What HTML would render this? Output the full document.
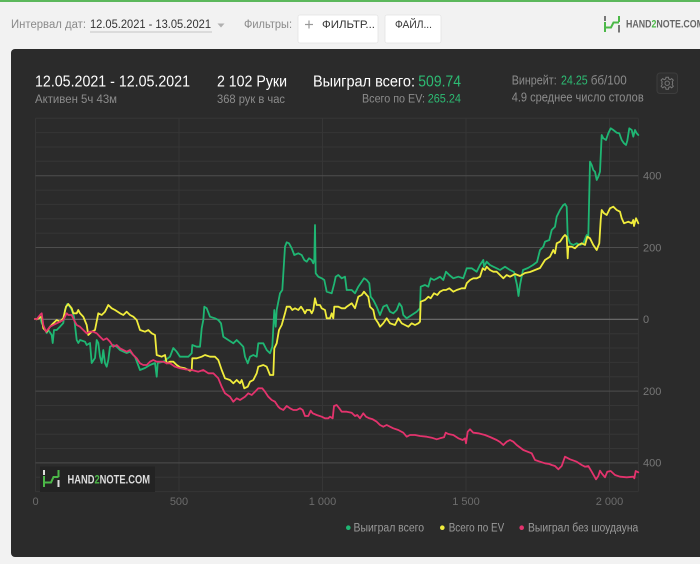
<!DOCTYPE html>
<html><head><meta charset="utf-8">
<style>
html,body{margin:0;padding:0;background:#f2f2f2;width:700px;height:564px;overflow:hidden}
svg{position:absolute;left:0;top:0;display:block}
text{font-family:"Liberation Sans","DejaVu Sans",sans-serif}
</style></head>
<body>
<svg width="700" height="564" viewBox="0 0 700 564" xmlns="http://www.w3.org/2000/svg">
<!-- top bar -->
<rect x="0" y="0" width="700" height="564" fill="#f2f2f2"/>
<rect x="0" y="0" width="700" height="2" fill="#5cb85c"/>
<text x="11" y="28" font-size="11.5" fill="#8a8a8a" textLength="75" lengthAdjust="spacingAndGlyphs">Интервал дат:</text>
<text x="90" y="28" font-size="11.5" fill="#333" textLength="121" lengthAdjust="spacingAndGlyphs">12.05.2021 - 13.05.2021</text>
<line x1="90" y1="32" x2="212" y2="32" stroke="#c4c4c4" stroke-width="1"/>
<polygon points="217.5,23.5 224.5,23.5 221,27.5" fill="#b0b0b0"/>
<text x="244" y="28" font-size="11.5" fill="#8a8a8a" textLength="48" lengthAdjust="spacingAndGlyphs">Фильтры:</text>
<rect x="298" y="15" width="80" height="28" rx="2" fill="#ffffff" stroke="#e4e4e4" stroke-width="0.8"/>
<line x1="305" y1="24.5" x2="313" y2="24.5" stroke="#999" stroke-width="1.2"/>
<line x1="309" y1="20.5" x2="309" y2="28.5" stroke="#999" stroke-width="1.2"/>
<text x="322" y="28" font-size="11" fill="#333" textLength="53" lengthAdjust="spacingAndGlyphs">ФИЛЬТР...</text>
<rect x="385" y="15" width="56" height="28" rx="2" fill="#ffffff" stroke="#e4e4e4" stroke-width="0.8"/>
<text x="395" y="28" font-size="11" fill="#333" textLength="37" lengthAdjust="spacingAndGlyphs">ФАЙЛ...</text>
<!-- top logo -->
<g stroke-width="2" fill="none">
<line x1="605" y1="16" x2="605" y2="21" stroke="#777"/>
<polyline points="605,22 605,32" stroke="#4cb848"/>
<polyline points="605,27.5 611,27.5 613.5,22.5 619,22.5" stroke="#4cb848"/>
<line x1="619" y1="16" x2="619" y2="22" stroke="#4cb848"/>
<line x1="619" y1="25" x2="619" y2="32.5" stroke="#777"/>
</g>
<text x="626" y="27.5" font-size="11" font-weight="bold" fill="#666" textLength="78" lengthAdjust="spacingAndGlyphs">HAND<tspan fill="#4cb848">2</tspan>NOTE.COM</text>

<!-- panel -->
<rect x="11" y="49" width="700" height="508" rx="4" fill="#2b2b2b"/>

<!-- header -->
<text x="35" y="86.5" font-size="15.5" fill="#ffffff" textLength="155" lengthAdjust="spacingAndGlyphs">12.05.2021 - 12.05.2021</text>
<text x="35" y="103" font-size="11.5" fill="#8c8c8c" textLength="82" lengthAdjust="spacingAndGlyphs">Активен 5ч 43м</text>
<text x="217" y="86.5" font-size="15.5" fill="#ffffff" textLength="70" lengthAdjust="spacingAndGlyphs">2 102 Руки</text>
<text x="217" y="103" font-size="11.5" fill="#8c8c8c" textLength="68" lengthAdjust="spacingAndGlyphs">368 рук в час</text>
<text x="313" y="86.5" font-size="15.5" fill="#ffffff" textLength="102" lengthAdjust="spacingAndGlyphs">Выиграл всего:</text>
<text x="418.3" y="86.5" font-size="15.5" fill="#2dbb73" textLength="42.7" lengthAdjust="spacingAndGlyphs">509.74</text>
<text x="362" y="102.5" font-size="11.5" fill="#8c8c8c" textLength="63" lengthAdjust="spacingAndGlyphs">Всего по EV:</text>
<text x="427.7" y="102.5" font-size="11.5" fill="#2dbb73" textLength="33.3" lengthAdjust="spacingAndGlyphs">265.24</text>
<text x="511.7" y="84.7" font-size="12.5" fill="#8c8c8c" textLength="45" lengthAdjust="spacingAndGlyphs">Винрейт:</text>
<text x="561" y="84.7" font-size="12.5" fill="#2dbb73" textLength="26.7" lengthAdjust="spacingAndGlyphs">24.25</text>
<text x="590.7" y="84.7" font-size="12.5" fill="#8c8c8c" textLength="36" lengthAdjust="spacingAndGlyphs">бб/100</text>
<text x="511.7" y="101.3" font-size="12.5" fill="#8c8c8c" textLength="132" lengthAdjust="spacingAndGlyphs">4.9 среднее число столов</text>
<rect x="657" y="73" width="20.5" height="20.5" rx="3" fill="#2f2f2f" stroke="#3d3d3d" stroke-width="1"/>
<g transform="translate(667.2,83.2)" fill="none" stroke="#777" stroke-width="1">
<circle r="2.2"/>
<path d="M-1.2,-6 L1.2,-6 L1.6,-4.2 L3,-3.5 L4.5,-4.6 L6.1,-3 L5,-1.5 L5.5,0 L5,1.5 L6.1,3 L4.5,4.6 L3,3.5 L1.6,4.2 L1.2,6 L-1.2,6 L-1.6,4.2 L-3,3.5 L-4.5,4.6 L-6.1,3 L-5,1.5 L-5.5,0 L-5,-1.5 L-6.1,-3 L-4.5,-4.6 L-3,-3.5 L-1.6,-4.2 Z"/>
</g>

<!-- grid: minor -->
<g stroke="#363636" stroke-width="1">
<line x1="35.5" y1="118.3" x2="638.3" y2="118.3"/>
<line x1="35.5" y1="132.6" x2="638.3" y2="132.6"/>
<line x1="35.5" y1="147.0" x2="638.3" y2="147.0"/>
<line x1="35.5" y1="161.3" x2="638.3" y2="161.3"/>
<line x1="35.5" y1="190.1" x2="638.3" y2="190.1"/>
<line x1="35.5" y1="204.4" x2="638.3" y2="204.4"/>
<line x1="35.5" y1="218.8" x2="638.3" y2="218.8"/>
<line x1="35.5" y1="233.1" x2="638.3" y2="233.1"/>
<line x1="35.5" y1="261.9" x2="638.3" y2="261.9"/>
<line x1="35.5" y1="276.2" x2="638.3" y2="276.2"/>
<line x1="35.5" y1="290.6" x2="638.3" y2="290.6"/>
<line x1="35.5" y1="304.9" x2="638.3" y2="304.9"/>
<line x1="35.5" y1="333.7" x2="638.3" y2="333.7"/>
<line x1="35.5" y1="348.0" x2="638.3" y2="348.0"/>
<line x1="35.5" y1="362.4" x2="638.3" y2="362.4"/>
<line x1="35.5" y1="376.7" x2="638.3" y2="376.7"/>
<line x1="35.5" y1="405.5" x2="638.3" y2="405.5"/>
<line x1="35.5" y1="419.8" x2="638.3" y2="419.8"/>
<line x1="35.5" y1="434.2" x2="638.3" y2="434.2"/>
<line x1="35.5" y1="448.5" x2="638.3" y2="448.5"/>
<line x1="35.5" y1="477.3" x2="638.3" y2="477.3"/>
<line x1="35.5" y1="491.6" x2="638.3" y2="491.6"/>
<line x1="35.5" y1="118.3" x2="35.5" y2="491.6"/>
<line x1="179" y1="118.3" x2="179" y2="491.6"/>
<line x1="322.5" y1="118.3" x2="322.5" y2="491.6"/>
<line x1="466" y1="118.3" x2="466" y2="491.6"/>
<line x1="609.5" y1="118.3" x2="609.5" y2="491.6"/>
<line x1="638.3" y1="118.3" x2="638.3" y2="491.6"/>
</g>
<g stroke="#4e4e4e" stroke-width="1">
<line x1="35.5" y1="175.7" x2="638.3" y2="175.7"/>
<line x1="35.5" y1="247.5" x2="638.3" y2="247.5"/>
<line x1="35.5" y1="391.1" x2="638.3" y2="391.1"/>
<line x1="35.5" y1="462.9" x2="638.3" y2="462.9"/>
</g>
<line x1="35.5" y1="319.3" x2="638.3" y2="319.3" stroke="#707070" stroke-width="1.2"/>

<!-- watermark -->
<rect x="40" y="466.5" width="115" height="25.5" fill="#232323"/>
<g stroke-width="2" fill="none">
<line x1="44" y1="470" x2="44" y2="475" stroke="#ddd"/>
<line x1="44" y1="476" x2="44" y2="487" stroke="#4cb848"/>
<polyline points="44,482.5 51,482.5 53.5,477 58.5,477" stroke="#4cb848"/>
<line x1="58.5" y1="470" x2="58.5" y2="477" stroke="#4cb848"/>
<line x1="58.5" y1="480" x2="58.5" y2="487" stroke="#ddd"/>
</g>
<text x="67.5" y="483.5" font-size="11.5" font-weight="bold" fill="#dddddd" textLength="82.5" lengthAdjust="spacingAndGlyphs">HAND<tspan fill="#4cb848">2</tspan>NOTE.COM</text>

<!-- series -->
<g fill="none" stroke-width="1.8" stroke-linejoin="round" stroke-linecap="round">
<polyline stroke="#1fb673" points="35,319 36.7,319.3 40,316.7 41.7,323 46.7,333 48.3,330 51.7,335 52.7,343 54,330 56.7,330 60,326.7 63.3,323 65,310 67.3,304 70,306.7 71.7,310 74,316.7 76.7,340 78.3,343 80,340 85,341.7 86.7,345 90,343 91.7,363 95,358 96.7,340 98.3,343 100,356.7 101.7,363 103.3,350 105,363 106.7,366.7 108.3,360 110,346.7 113.3,345 116.7,346.7 120,350 126.7,353 130,351.7 135,356.7 140,370 145,368 150,365 155,363 156.7,376.7 157.7,363 163.3,361.7 170,356.7 173.3,348 176.7,351.7 180,356.7 185,356.7 188.3,356.7 191.7,353.3 192.3,345 196.7,346.7 200,346.7 201.7,328.3 203.3,320 204.3,306.7 206.7,308.3 210,316.7 215,318.3 218.3,320 221,323.3 223.3,336.7 228.3,340 233.3,343.3 236.7,340 240,343.3 243.3,346.7 245,356.7 247.7,363.3 250,356.7 253.3,355 256.7,356.7 258.3,343.3 263.3,343.3 266.7,350 270,353.3 272.3,346.7 274.3,310 275.7,326.7 276.7,310 280,293.3 282.3,290 285,246.7 286.7,242.3 289,243.3 291.7,248.3 294.3,255 298.3,253.3 301.7,255 304.3,260 306.7,261.7 309,258.3 311.7,260 313.3,263.3 314.3,260 315,225 315.7,273.3 318.3,276.7 321.7,278.3 324.3,280 326.7,291.7 331.7,293.3 334.3,283.3 335.7,276.7 338.3,275 341.7,278.3 345,276.7 346.7,290 351.7,290 355,293.3 358.3,286.7 361.7,281.7 364,278.3 366.7,280 369.3,283.3 370.7,296.7 373.3,300 376.7,306.7 380,315 383.3,306.7 386.7,305 390,311.7 393.3,313.3 396.7,310 399.3,303.3 401.7,306.7 403.3,315 406.7,318.3 411.7,315 416.7,311.7 420,308.3 420.7,286.7 425,285 428.3,286.7 430.7,278.3 434,280 437.3,278.3 440,276.7 443.3,280 446,271.7 449.3,275 453.3,278.3 458.3,276.7 463.3,278.3 466.7,268.3 471.7,268.3 476.7,271.7 480,265 483.3,260 484,266.7 486.7,261.7 490,265 493.3,266.7 496.7,268.3 500,270 505,266.7 510,270 514,272 517,285 518.5,296 520,285 523,270 528,268 533,265 537,262 540,250 543.3,246.7 545,241.7 549.3,240 551.7,230 555,226.7 556.7,216.7 560,210 563.3,205 565,204 566.7,206.7 567.7,236.7 570,243.3 573.3,245 576.7,243.3 580,245 583.3,243.3 586.7,235 588.3,236.7 590,161.7 591.7,165 593.3,170 595,171.7 596.7,180 598.3,176.7 600,171.7 601.7,135 603.3,138.3 606,140 608.3,133.3 610.7,128.3 613.3,130 616.7,132.7 619.3,133.3 621.7,140 624,143.3 626,145 627.3,140.7 629.3,128.3 631.7,130 633.3,136.7 635,130 636.7,133.3 638.3,135"/>
<polyline stroke="#f0ec3c" points="35,319 36.7,319.3 41.7,316.7 43.3,328.3 46.7,331.7 50,326.7 53.3,323.3 56.7,320 60,321.7 63.3,318.3 66,306.7 68.3,304 71.7,308.3 73.3,313.3 76.7,313.3 78.3,310 80,313.3 83.3,316.7 86.7,325 88.3,335 91.7,331.7 95,330 98.3,313.3 101.7,315 105,311.7 108.3,305 111.7,308.3 115,310 120,313.3 123.3,315 126.7,311.7 130,315 133.3,316.7 136.7,320 140,330 145,331.7 148.3,330 151.7,333.3 155,335 156.7,355 161.7,356.7 165,355 166.7,363.3 170,361.7 173.3,361.7 176.7,365 180,367.3 185,368.3 190,370.7 191.7,370 192.3,358.3 196.7,358.3 201.7,356.7 205,355 210,356.7 215,356.7 218.3,360 221.7,370 225,378.3 230,380 233.3,383.3 236.7,380 240,383.3 241.7,380 244.3,388.3 247.7,386.7 250,381.7 253.3,380 256.7,373.3 258.3,366.7 263.3,365 266.7,366.7 270,375 273.3,375 274.3,348.3 276.7,343.3 279,330 281.7,325 285,313.3 286.7,306.7 290,306.7 292.3,310 295,308.3 298.3,310 301,306.7 303.3,310 305,313.3 306.7,310 310,310 311.7,313.3 313.3,310 315,298.3 316.7,305 320,305 321.7,308.3 325,310 326.7,318.3 330,318.3 331.7,313.3 333.3,318.3 334.3,306.7 338.3,306.7 341.7,308.3 345,308.3 346.7,306.7 351.7,303.3 355,308.3 358.3,296.7 361.7,295 364,291.7 366.7,295 368.3,296.7 370,306.7 373.3,310 375,318.3 378.3,323.3 380,326.7 383.3,323.3 386.7,318.3 390,323.3 395,325 398.3,318.3 401.7,323.3 405,325 408.3,326.7 411.7,323.3 415,325 418.3,323.3 420,321.7 420.7,301.7 425,300 428.3,296.7 430.7,298.3 434,293.3 437.3,295 440,291.7 443.3,290 446,290 449.3,288.3 453.3,291.7 456.7,290 461.7,288.3 465,288.3 466.7,283.3 470,280 473.3,278.3 476.7,278.3 480,276.7 482.7,268.3 485,270 486.7,266.7 490,270 493.3,271.7 496.7,271.7 500,275 503.3,278.3 506.7,275 510,276.7 515,274 520,276 525,273 530,272 535,270 540,268 545,260 550,256.7 553.3,250 555,253.3 556.7,243.3 560,241.7 563.3,236.7 565,235 566.7,236.7 567.7,258.3 568.3,246.7 571.7,246.7 575,248.3 578.3,245 581.7,243.3 585,245 587.3,236.7 590,238.3 593.3,245 596.7,250 599.3,243.3 600.7,220 601.7,210 604,213.3 606.7,215 610,208.3 613.3,206.7 616.7,210 620,211.7 621.7,218.3 624,223.3 628.3,221.7 631.7,223.3 633.3,220 634,226 636,218.3 638.3,223.3"/>
<polyline stroke="#e3336d" points="35,319 36.7,319.3 40,315 41.7,313.3 43.3,325 46,331.7 50,326.7 53.3,325 56.7,323.3 60,321.7 63.3,320 66.7,313.3 68.3,315 71.7,315 74,320 76.7,325 80,326.7 83.3,330 86.7,333.3 90,331.7 93.3,331.7 96.7,333.3 100,336.7 103.3,340 106.7,338.3 110,341.7 113.3,346.7 116.7,345 120,348.3 123.3,350 126.7,351.7 130,350 133.3,355 136.7,358.3 140,363.3 143.3,365 146.7,365 150,361.7 153.3,360 156.7,361.7 163.3,361.7 166.7,363.3 170,363.3 175,366.7 180,368.3 185,369.3 191.7,370 198.3,371.7 203.3,370 208.3,373.3 213.3,373.3 218.3,378.3 221.7,386.7 225,393.3 230,396.7 233.3,401.7 236.7,398.3 240,400 245,396.7 248.3,393.3 251.7,395 255,391.7 258.3,388.3 262.3,388.3 265,391.7 268.3,396.7 271.7,400 275,401.7 278.3,406.7 280,408.3 283.3,410 286.7,406 290,408.3 293.3,410 296.7,410 300,408.3 302.7,410 305,416 308.3,416 310.7,410.7 312.7,413.3 316.7,415 321.7,416.7 325,418.3 328.3,418.3 330,416.7 332.7,418.3 334,406 336.7,405 339.3,408.3 341.7,411.7 346.7,411.7 351.7,412.7 355,416 357.3,415 360,418.3 363.3,413.3 366,416.7 369.3,418.3 372.7,419.3 376.7,421.7 380,425 383.3,426.7 386.7,425 390,426.7 393.3,428.3 398.3,430 403.3,432.7 406.7,436.7 410,435 415,435 420,436 426.7,436.7 431.7,437.7 436.7,439.3 440,438.3 444,437.3 445.7,432.7 448.3,434 453.3,435 458.3,438.3 462.7,440 465,438.3 466,443.3 467.7,431.7 470,429.3 473.3,432.7 478.3,433.3 485,435 490,437 496.7,440 500,442 503.3,445 506.7,441.7 510,440 513.3,441.7 516.7,445 523.3,450 531.7,453.3 535,460 540,461.7 545,463.3 549.3,464 551.7,465 555,466 558.3,469.3 561.7,466 565,456.7 570,459.3 576.7,461.7 581.7,465 585,466.7 588.3,466 591.7,471.7 596,479.3 598.3,476 600,470.7 601.7,473.3 605,477.3 607.3,471.7 610.7,471 615,475 620,476.7 626.7,477.3 633.3,476.7 634.3,478.3 635.7,471 638.3,472.3"/>
</g>

<!-- y labels -->
<g font-size="11" fill="#777">
<text x="643" y="179.5">400</text>
<text x="643" y="251.3">200</text>
<text x="643" y="323.1">0</text>
<text x="643" y="394.9">200</text>
<text x="643" y="466.7">400</text>
</g>
<!-- x labels -->
<g font-size="11" fill="#6c6c6c" text-anchor="middle">
<text x="35.5" y="505">0</text>
<text x="179" y="505">500</text>
<text x="322.5" y="505">1 000</text>
<text x="466" y="505">1 500</text>
<text x="609.5" y="505">2 000</text>
</g>
<!-- legend -->
<circle cx="348.3" cy="527.7" r="2.3" fill="#1fb673"/>
<text x="353.5" y="531.5" font-size="11.5" fill="#9a9a9a" textLength="70.5" lengthAdjust="spacingAndGlyphs">Выиграл всего</text>
<circle cx="442.3" cy="527.7" r="2.3" fill="#f0ec3c"/>
<text x="448.7" y="531.5" font-size="11.5" fill="#9a9a9a" textLength="55.5" lengthAdjust="spacingAndGlyphs">Всего по EV</text>
<circle cx="521.7" cy="527.7" r="2.3" fill="#e3336d"/>
<text x="528" y="531.5" font-size="11.5" fill="#9a9a9a" textLength="110.3" lengthAdjust="spacingAndGlyphs">Выиграл без шоудауна</text>
</svg>
</body></html>
